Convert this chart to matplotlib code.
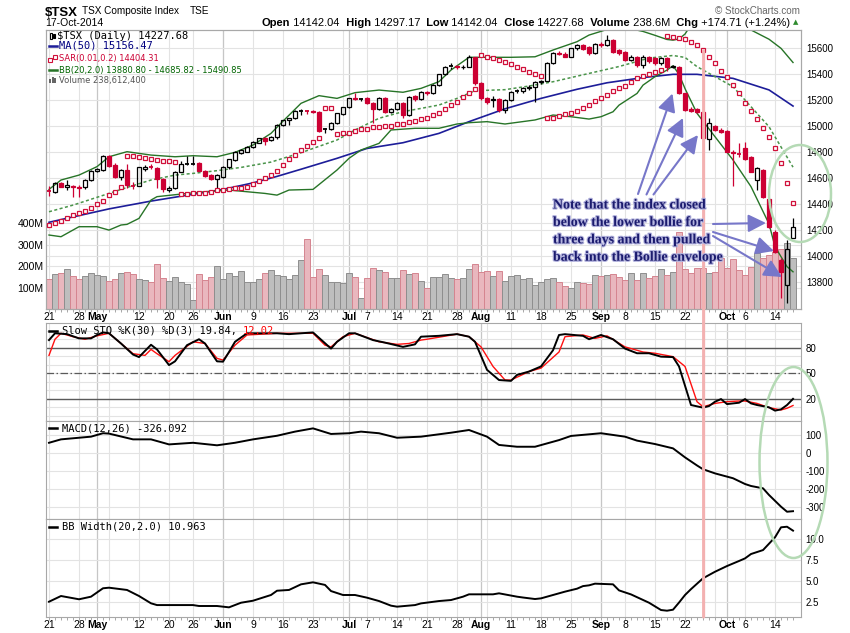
import matplotlib
matplotlib.use("Agg")
import matplotlib.pyplot as plt
import matplotlib.transforms as mtransforms
import matplotlib.patheffects as pe
from matplotlib.patches import Rectangle, Ellipse, FancyArrowPatch, ConnectionPatch
from matplotlib.lines import Line2D
import pandas as pd

W, H = 850, 633
plt.rcParams['font.family'] = ['Liberation Sans', 'DejaVu Sans']

# ---------------- data ----------------
holidays = ['2014-05-19', '2014-07-01', '2014-08-04', '2014-09-01', '2014-10-13']
dates = pd.bdate_range('2014-04-21', '2014-10-17')
dates = dates[~dates.isin(pd.to_datetime(holidays))]

prev_close = 14530  # Apr 17 close

opens = [14505, 14492, 14561, 14536, 14542, 14532, 14530, 14587, 14656, 14664,
         14772, 14702, 14607, 14664, 14545, 14543, 14669, 14690, 14677, 14595,
         14513, 14523, 14651, 14707, 14710, 14720, 14659, 14625, 14595, 14613,
         14684, 14741, 14797, 14805, 14838, 14874, 14913, 14895, 14915, 15010,
         15048, 15061, 15118, 15121, 15118, 15113, 14978, 14977, 15028, 15095,
         15146, 15215, 15210, 15215, 15177, 15136, 15215, 15113, 15131, 15177,
         15087, 15233, 15208, 15267, 15254, 15318, 15400, 15459, 15462, 15453,
         15460, 15531, 15331, 15215, 15200, 15210, 15126, 15203, 15275, 15270,
         15292, 15300, 15340, 15352, 15490, 15567, 15560, 15535, 15600, 15625,
         15612, 15561, 15632, 15622, 15664, 15587, 15575, 15510, 15535, 15471,
         15530, 15523, 15484, 15523, 15455, 15458, 15253, 15131, 15131, 15113,
         14900, 15000, 14972, 14967, 14805, 14792, 14836, 14767, 14587, 14664,
         14439, 14190, 13972, 13780, 14142]
highs = [14540, 14575, 14570, 14585, 14550, 14545, 14595, 14665, 14680, 14780,
         14778, 14720, 14672, 14710, 14574, 14690, 14700, 14712, 14690, 14600,
         14540, 14655, 14730, 14774, 14774, 14725, 14668, 14630, 14632, 14695,
         14752, 14810, 14825, 14850, 14888, 14912, 14920, 14925, 15015, 15052,
         15065, 15125, 15130, 15128, 15125, 15120, 14990, 15035, 15105, 15150,
         15220, 15259, 15220, 15225, 15185, 15222, 15222, 15140, 15185, 15185,
         15235, 15240, 15275, 15275, 15325, 15405, 15465, 15490, 15470, 15470,
         15545, 15536, 15340, 15225, 15230, 15220, 15210, 15275, 15285, 15300,
         15315, 15350, 15360, 15495, 15570, 15580, 15575, 15605, 15635, 15632,
         15620, 15640, 15645, 15702, 15675, 15595, 15580, 15545, 15540, 15545,
         15540, 15530, 15530, 15530, 15475, 15465, 15260, 15150, 15140, 15120,
         15062, 15010, 14985, 14975, 14815, 14870, 14882, 14775, 14690, 14670,
         14445, 14200, 13985, 14126, 14297]
lows = [14465, 14485, 14530, 14510, 14460, 14455, 14520, 14580, 14645, 14655,
        14690, 14600, 14590, 14523, 14520, 14540, 14660, 14670, 14523, 14497,
        14495, 14515, 14645, 14700, 14700, 14655, 14612, 14585, 14510, 14605,
        14675, 14735, 14790, 14800, 14830, 14868, 14856, 14885, 14905, 15000,
        15010, 15055, 15090, 15095, 15100, 14960, 14945, 14970, 15020, 15090,
        15140, 15200, 15195, 15170, 15023, 15125, 15105, 15100, 15125, 15062,
        15080, 15195, 15200, 15240, 15245, 15310, 15395, 15440, 15440, 15440,
        15455, 15320, 15200, 15175, 15150, 15110, 15100, 15195, 15255, 15260,
        15280, 15190, 15325, 15345, 15480, 15545, 15530, 15530, 15590, 15585,
        15550, 15555, 15610, 15615, 15565, 15550, 15500, 15500, 15460, 15446,
        15490, 15470, 15475, 15425, 15445, 15245, 15115, 15110, 15100, 14900,
        14818, 14965, 14950, 14800, 14544, 14767, 14740, 14645, 14510, 14450,
        14215, 14025, 13677, 13639, 14142]
closes = [14500, 14561, 14536, 14545, 14530, 14525, 14587, 14656, 14671, 14772,
          14695, 14607, 14664, 14548, 14543, 14684, 14690, 14684, 14595, 14515,
          14528, 14651, 14707, 14709, 14714, 14659, 14618, 14595, 14625, 14690,
          14746, 14805, 14818, 14843, 14882, 14907, 14890, 14920, 15010, 15048,
          15061, 15118, 15121, 15116, 15108, 14967, 14982, 15028, 15100, 15146,
          15215, 15208, 15210, 15177, 15133, 15215, 15113, 15131, 15177, 15087,
          15228, 15208, 15267, 15254, 15318, 15400, 15459, 15462, 15453, 15460,
          15531, 15331, 15215, 15190, 15210, 15126, 15203, 15267, 15270, 15292,
          15305, 15344, 15352, 15490, 15562, 15554, 15535, 15600, 15625, 15594,
          15561, 15630, 15622, 15664, 15574, 15561, 15510, 15535, 15471, 15535,
          15500, 15484, 15523, 15458, 15462, 15253, 15125, 15120, 15113, 14908,
          15028, 14972, 14959, 14805, 14792, 14788, 14746, 14651, 14677, 14459,
          14228, 14036, 13882, 14053, 14228]
volume_m = [139, 163, 167, 186, 153, 139, 153, 167, 159, 153,
            130, 139, 167, 173, 163, 139, 135, 125, 209, 144,
            130, 148, 125, 116, 41, 163, 135, 148, 200, 139,
            167, 153, 177, 125, 125, 139, 167, 181, 158, 153,
            139, 158, 228, 326, 148, 186, 158, 125, 125, 120,
            167, 148, 50, 144, 190, 181, 172, 144, 144, 181,
            163, 167, 130, 97, 148, 148, 163, 144, 139, 144,
            186, 209, 172, 177, 153, 177, 131, 155, 158, 139,
            147, 111, 127, 139, 147, 125, 108, 100, 128, 120,
            116, 158, 155, 158, 163, 151, 134, 166, 134, 166,
            147, 155, 186, 158, 173, 358, 187, 167, 193, 193,
            167, 171, 240, 193, 233, 183, 158, 198, 264, 236,
            251, 267, 280, 310, 238.6]
sar = [14241, 14253, 14271, 14292, 14318, 14330, 14348, 14369, 14400, 14428,
       14469, 14497, 14536, 14771, 14771, 14766, 14753, 14746, 14741, 14735,
       14733, 14723, 14476, 14478, 14484, 14489, 14491, 14497, 14510, 14512,
       14515, 14523, 14528, 14536, 14556, 14579, 14605, 14625, 14660, 14705,
       14745, 14780, 14815, 14850, 14880, 14910, 15138, 15138, 14938, 14946,
       14951, 14964, 14977, 14980, 14992, 14997, 15003, 15005, 15015, 15018,
       15031, 15041, 15054, 15062, 15087, 15105, 15131, 15162, 15190, 15223,
       15259, 15290, 15545, 15536, 15523, 15510, 15495, 15477, 15459, 15438,
       15420, 15403, 15385, 15062, 15065, 15080, 15092, 15105, 15117, 15138,
       15164, 15197, 15220, 15240, 15271, 15292, 15312, 15343, 15374, 15390,
       15399, 15415, 15430, 15695, 15685, 15677, 15669, 15650, 15626, 15590,
       15536, 15485, 15428, 15382, 15318, 15254, 15182, 15121, 15054, 14985,
       14920, 14831, 14715, 14562, 14408]

# indicator lines sampled off the chart: (day index, value)
ma50_x = [0, 10, 17, 23, 29, 34, 38, 42, 48, 53, 59, 65, 70, 76, 82, 88, 93, 99, 104, 108, 114, 120, 124]
ma50_y = [14262, 14365, 14425, 14470, 14515, 14565, 14615, 14670, 14754, 14830, 14874, 14946,
          15036, 15135, 15215, 15285, 15335, 15375, 15400, 15400, 15369, 15280, 15156]
bbm_x = [0, 4, 10, 13, 17, 21, 24, 28, 32, 37, 42, 48, 51, 55, 59, 62, 65, 68, 71, 76, 80,
         84, 90, 95, 100, 104, 106, 108, 114, 120, 124]
bbm_y = [14343, 14394, 14484, 14530, 14587, 14625, 14638, 14659, 14684, 14725, 14797, 14895,
         14972, 15062, 15113, 15138, 15164, 15215, 15274, 15282, 15310, 15343, 15407, 15460,
         15525, 15545, 15530, 15459, 15305, 14997, 14686]
bbu_x = [0, 2, 5, 8, 10, 13, 17, 21, 24, 28, 31, 34, 37, 39, 42, 45, 48, 51, 55, 59, 62, 65,
         67, 70, 73, 77, 81, 84, 88, 90, 93, 96, 99, 101, 103, 104, 105, 106, 107, 110, 113,
         115, 117, 120, 122, 124]
bbu_y = [14515, 14587, 14625, 14690, 14766, 14805, 14779, 14766, 14774, 14766, 14800, 14856,
         14946, 15040, 15177, 15236, 15215, 15259, 15279, 15262, 15292, 15344, 15433, 15531,
         15531, 15531, 15535, 15587, 15651, 15702, 15745, 15760, 15730, 15700, 15668, 15663,
         15672, 15710, 15780, 15900, 15900, 15800, 15741, 15670, 15600, 15491]
bbl_x = [0, 2, 5, 8, 10, 12, 13, 15, 17, 18, 22, 26, 30, 33, 36, 38, 40, 44, 48, 50, 52, 55,
         57, 61, 65, 68, 70, 73, 76, 81, 84, 87, 90, 92, 94, 95, 98, 99, 101, 103, 104, 105,
         106, 108, 111, 114, 117, 120, 121, 123, 124]
bbl_y = [14164, 14151, 14228, 14228, 14202, 14241, 14246, 14292, 14433, 14459, 14479, 14497,
         14510, 14497, 14484, 14471, 14510, 14515, 14664, 14754, 14818, 14869, 14972, 14985,
         14985, 15018, 15028, 15036, 15018, 15049, 15087, 15074, 15056, 15074, 15112, 15163,
         15253, 15317, 15382, 15433, 15466, 15400, 15290, 15100, 14920, 14741, 14536, 14250,
         14074, 13921, 13881]

sto_k_x = [0, 1, 3, 5, 7, 8, 9, 10, 12, 14, 15, 17, 18, 20, 21, 23, 25, 26, 28, 29, 30, 31,
           33, 38, 40, 44, 47, 48, 50, 51, 54, 56, 59, 61, 62, 65, 68, 70, 71, 73, 75, 77, 78,
           80, 82, 84, 85, 86, 89, 90, 92, 94, 96, 98, 100, 102, 104, 105, 107, 109, 110, 111,
           112, 113, 115, 116, 117, 118, 120, 121, 122, 123, 124]
sto_k_y = [89, 97, 96, 91, 91, 95, 98, 97, 85, 72, 69, 83.5, 78, 59.6, 64, 83, 90, 85, 64,
           63.6, 75, 87, 97, 97, 96, 98, 79, 87, 97, 97, 89, 86, 81, 84, 93, 94, 96, 93, 87,
           54, 42, 41, 48, 52, 58, 77, 95, 96, 94, 90, 95, 90, 79, 73.5, 73.5, 69.5, 69, 58,
           12.6, 9.5, 11.4, 16.5, 19.6, 13.7, 15.3, 19.6, 14.5, 12.6, 9.9, 6, 7.5, 12.6, 19.84]
sto_d_x = [0, 1, 2, 4, 6, 8, 10, 12, 14, 16, 17, 18, 20, 21, 24, 26, 28, 29, 31, 33, 38, 44,
           46, 47, 49, 51, 55, 58, 60, 62, 63, 68, 70, 72, 74, 76, 77, 80, 82, 85, 86, 89, 91,
           93, 96, 99, 101, 104, 106, 108, 109, 111, 113, 115, 116, 118, 120, 122, 123, 124]
sto_d_y = [71, 90, 97, 93, 90, 94, 97, 85, 73, 71, 78, 73, 63.6, 71, 87, 85, 67.5, 65.5, 83,
           95, 97, 97, 83, 81, 93, 97, 87, 84, 85, 89, 90, 96, 93, 81, 58, 42, 42, 52, 56, 75,
           93, 95, 91, 94, 81, 75, 73.5, 69.5, 58, 16.5, 10.6, 14.5, 16.5, 17.3, 17.3, 14.5,
           9.5, 6.8, 8.8, 12.02]
macd_x = [0, 2, 5, 7, 9, 10, 14, 17, 20, 24, 28, 31, 34, 38, 41, 44, 47, 50, 52, 55, 58, 62,
          67, 70, 73, 75, 78, 81, 85, 87, 90, 92, 96, 98, 101, 104, 106, 108, 109, 111, 114,
          116, 117, 119, 120, 122, 123, 124]
macd_y = [54, 73, 82, 88, 107, 105, 73, 73, 45, 54, 40, 54, 73, 93, 116, 134, 103, 107, 116,
          107, 82, 88, 110, 125, 88, 42, 32, 32, 69, 92, 101, 107, 88, 66, 47, 23, -27, -72,
          -93, -116, -143, -175, -186, -199, -236, -301, -329, -326]
bbw_x = [0, 2, 5, 7, 9, 10, 13, 15, 17, 18, 24, 25, 28, 30, 32, 34, 37, 38, 40, 42, 44, 46,
         47, 49, 51, 53, 55, 57, 58, 61, 62, 65, 67, 69, 70, 74, 75, 78, 79, 81, 82, 85, 86,
         88, 89, 90, 91, 94, 95, 97, 100, 102, 103, 104, 105, 106, 107, 109, 111, 113, 115,
         116, 117, 119, 121, 122, 123, 124]
bbw_y = [2.5, 3.18, 2.79, 3.1, 4.1, 4.17, 3.9, 3.18, 2.31, 2.1, 2.1, 1.99, 1.99, 1.83, 2.38,
         2.62, 3.3, 3.81, 3.9, 4.57, 4.81, 4.5, 3.77, 3.3, 3.3, 2.98, 2.58, 2.03, 1.91, 2.1,
         2.3, 2.58, 2.7, 3.1, 3.38, 3.38, 3.5, 3.1, 3.0, 2.82, 2.9, 3.5, 3.7, 4.05, 4.36,
         4.45, 4.65, 4.57, 3.85, 3.37, 2.38, 1.51, 1.43, 1.55, 2.4, 3.3, 4.0, 5.29, 6.07,
         6.75, 7.35, 7.66, 8.18, 8.65, 10.17, 11.36, 11.43, 10.963]

marked_day = 109.1  # pink vertical marker (Sep 25)

# ---------------- helpers ----------------
def fx(x):
    return x / W

def fy(y):
    return 1 - y / H

def rect(x0, y0, x1, y1):
    return [x0 / W, 1 - y1 / H, (x1 - x0) / W, (y1 - y0) / H]

n = len(dates)
s = pd.Series(range(n), index=dates)
week_idx = sorted(s.groupby(dates.isocalendar().week.values).min().tolist())
month_idx = [i for i in range(1, n) if dates[i].month != dates[i - 1].month]
labels = {}
for i in sorted(set(week_idx) | set(month_idx)):
    if i in month_idx:
        labels[i] = dates[i].strftime('%b')
    elif min(abs(i - m) for m in month_idx) >= 3:
        labels[i] = str(dates[i].day)

GRID = '#e3e3e3'
MGRID = '#c6c6c6'
SPINE = '#a8a8a8'

fig = plt.figure(figsize=(W / 100, H / 100), dpi=100)
ax_v = fig.add_axes(rect(46, 30, 801, 309))
ax = ax_v.twinx()
ax_sto = fig.add_axes(rect(46, 323, 801, 421), sharex=ax_v)
ax_macd = fig.add_axes(rect(46, 421, 801, 519), sharex=ax_v)
ax_bbw = fig.add_axes(rect(46, 519, 801, 617), sharex=ax_v)

for a in (ax_v, ax_sto, ax_macd, ax_bbw):
    for i in week_idx:
        a.axvline(i, color=GRID, lw=0.8, zorder=0)
    for i in month_idx:
        a.axvline(i, color=MGRID, lw=0.9, zorder=0)

# price grid drawn in the volume axes (behind bars)
blend = mtransforms.blended_transform_factory(ax_v.transAxes, ax.transData)
for p in range(13800, 15601, 200):
    ax_v.add_line(Line2D([0, 1], [p, p], transform=blend, color=GRID, lw=0.8, zorder=0))
for v in (100, 200, 300, 400):
    ax_v.axhline(v * 1e6, color=GRID, lw=0.8, zorder=0)

# volume
for i in range(n):
    pc = closes[i - 1] if i else prev_close
    up = closes[i] >= pc
    ax_v.bar(i, volume_m[i] * 1e6, width=1.0,
             color='#bebebe' if up else '#e9b7be',
             edgecolor='#8e8e8e' if up else '#d58590', linewidth=0.7, zorder=2)

# candles
for i in range(n):
    o, h, l, c = opens[i], highs[i], lows[i], closes[i]
    pc = closes[i - 1] if i else prev_close
    col = '#000000' if c >= pc else '#cc0033'
    top, bot = max(o, c), min(o, c)
    ax.plot([i, i], [top, h], color=col, lw=0.9, solid_capstyle='butt', zorder=3)
    ax.plot([i, i], [l, bot], color=col, lw=0.9, solid_capstyle='butt', zorder=3)
    if top - bot < 7:
        ax.plot([i - 0.38, i + 0.38], [c, c], color=col, lw=1.3, solid_capstyle='butt', zorder=4)
    else:
        ax.add_patch(Rectangle((i - 0.36, bot), 0.72, top - bot,
                               facecolor='none' if c > o else col,
                               edgecolor=col, lw=0.9, zorder=4))

ax.plot(ma50_x, ma50_y, color='#1d1d99', lw=1.2, zorder=2)
ax.plot(bbu_x, bbu_y, color='#277427', lw=1.0, zorder=2)
ax.plot(bbl_x, bbl_y, color='#277427', lw=1.0, zorder=2)
ax.plot(bbm_x, bbm_y, color='#4a944a', lw=1.1, ls=(0, (2, 1.6)), zorder=2)
ax.plot(range(n), sar, ls='none', marker='s', ms=2.6, mfc='white', mec='#d0103a',
        mew=0.9, zorder=5)

ax_v.set_xlim(-0.5, 125.33)
ax.set_ylim(13595, 15741)
ax_v.set_ylim(0, 1303.7e6)

ax.set_yticks(range(13800, 15601, 200))
ax.set_yticklabels([str(p) for p in range(13800, 15601, 200)])
ax.tick_params(axis='y', length=0, pad=3.5, labelsize=7)
ax_v.set_yticks([100e6, 200e6, 300e6, 400e6])
ax_v.set_yticklabels(['100M', '200M', '300M', '400M'])
ax_v.tick_params(axis='y', length=0, pad=1.8, labelsize=7.5)

# STO panel
for v in range(0, 101, 10):
    ax_sto.axhline(v, color=GRID, lw=0.8, zorder=0)
ax_sto.axhline(80, color='#5a5a5a', lw=1.0, zorder=1)
ax_sto.axhline(20, color='#5a5a5a', lw=1.0, zorder=1)
ax_sto.axhline(50, color='#5a5a5a', lw=0.9, ls=(0, (6, 2, 1.2, 2)), zorder=1)
ax_sto.plot(sto_d_x, sto_d_y, color='#ff1010', lw=1.0, zorder=3)
ax_sto.plot(sto_k_x, sto_k_y, color='black', lw=1.4, zorder=4)
ax_sto.set_ylim(-6.2, 109.1)
ax_sto.yaxis.tick_right()
ax_sto.set_yticks([20, 50, 80])
ax_sto.set_yticklabels(['20', '50', '80'])

# MACD panel
for v in (-300, -200, -100, 0, 100):
    ax_macd.axhline(v, color=GRID, lw=0.8, zorder=0)
ax_macd.plot(macd_x, macd_y, color='black', lw=1.4, zorder=3)
ax_macd.set_ylim(-369.4, 175)
ax_macd.yaxis.tick_right()
ax_macd.set_yticks([-300, -200, -100, 0, 100])
ax_macd.set_yticklabels(['-300', '-200', '-100', '0', '100'])

# BB width panel
for v in (2.5, 5.0, 7.5, 10.0):
    ax_bbw.axhline(v, color=GRID, lw=0.8, zorder=0)
ax_bbw.plot(bbw_x, bbw_y, color='black', lw=1.4, zorder=3)
ax_bbw.set_ylim(0.68, 12.35)
ax_bbw.yaxis.tick_right()
ax_bbw.set_yticks([2.5, 5.0, 7.5, 10.0])
ax_bbw.set_yticklabels(['2.5', '5.0', '7.5', '10.0'])

for a in (ax_sto, ax_macd, ax_bbw):
    a.tick_params(axis='y', length=0, pad=3, labelsize=7)

ax_v.set_xticks([])
ax_v.set_xticks(range(n), minor=True)
for a in (ax_v, ax_bbw):
    a.tick_params(axis='x', which='minor', length=2, width=0.6, color='#9a9a9a')
for a in (ax_sto, ax_macd):
    a.tick_params(axis='x', which='both', bottom=False, labelbottom=False)

for a in (ax_v, ax, ax_sto, ax_macd, ax_bbw):
    for sp in a.spines.values():
        sp.set_color(SPINE)
        sp.set_linewidth(0.8)


def date_labels(a):
    tr = mtransforms.offset_copy(
        mtransforms.blended_transform_factory(a.transData, a.transAxes),
        fig=fig, x=0, y=-2.5, units='dots')
    for i, lab in labels.items():
        a.text(i, 0, lab, transform=tr, ha='center', va='top', fontsize=7.5,
               fontweight='bold' if i in month_idx else 'normal', clip_on=False)


date_labels(ax_v)
date_labels(ax_bbw)

# pink marker line running through all panels
fig.add_artist(ConnectionPatch(xyA=(marked_day, 15581), coordsA='data', axesA=ax,
                               xyB=(marked_day, 0.68), coordsB='data', axesB=ax_bbw,
                               color='#f3b1b1', lw=2.2, zorder=6))

# ---------------- header ----------------
r = fig.canvas.get_renderer()
fig.text(fx(45), fy(15.5), "$TSX", fontsize=9.5, fontweight='bold', va='baseline')
fig.text(fx(82), fy(14.2), "TSX Composite Index", fontsize=7.2, va='baseline')
fig.text(fx(190), fy(14.2), "TSE", fontsize=7.2, va='baseline')
fig.text(fx(45), fy(26.5), "17-Oct-2014", fontsize=7.5, va='baseline')
fig.text(fx(800), fy(14.5), "\u00a9 StockCharts.com", fontsize=7.1, color='#666666',
         ha='right', va='baseline')

pieces = [("Open", 'bold'), (" 14142.04", 'normal'), ("  High", 'bold'), (" 14297.17", 'normal'),
          ("  Low", 'bold'), (" 14142.04", 'normal'), ("  Close", 'bold'), (" 14227.68", 'normal'),
          ("  Volume", 'bold'), (" 238.6M", 'normal'), ("  Chg", 'bold'),
          (" +174.71 (+1.24%)", 'normal')]
texts = [fig.text(0, fy(26.5), s_, fontsize=8, fontweight=w_, va='baseline') for s_, w_ in pieces]
widths = [t.get_window_extent(renderer=r).width for t in texts]
x = 790 - sum(widths)
for t, wd in zip(texts, widths):
    t.set_x(fx(x))
    x += wd
fig.text(fx(796), fy(22.5), "\u25b2", fontsize=5, color='#2e8b2e', family='DejaVu Sans',
         ha='center', va='center')

# ---------------- legends ----------------
MONO = 'DejaVu Sans Mono'
fig.add_artist(Rectangle((fx(49.5), fy(39)), 2.2 / W, 6 / H, transform=fig.transFigure,
                         facecolor='none', edgecolor='black', lw=0.8))
fig.add_artist(Rectangle((fx(53), fy(38)), 2.2 / W, 4 / H, transform=fig.transFigure,
                         facecolor='black', edgecolor='black', lw=0.8))
fig.text(fx(57.3), fy(36), "$TSX (Daily) 14227.68", family=MONO, fontsize=7.5, va='center')
fig.add_artist(Line2D([fx(49), fx(57)], [fy(45.7), fy(45.7)], transform=fig.transFigure,
                      color='#1d1d99', lw=1.8))
fig.text(fx(59.3), fy(45.7), "MA(50) 15156.47", family=MONO, fontsize=7.5, va='center',
         color='#000080')
fig.add_artist(Line2D([fx(50), fx(55)], [fy(59.5), fy(57)], transform=fig.transFigure,
                      ls='none', marker='s', ms=2.4, mfc='white', mec='#d0103a', mew=0.8))
fig.text(fx(59.3), fy(59), "SAR(0.01,0.2) 14404.31", fontsize=6, family='DejaVu Sans',
         va='center', color='#cc0033')
fig.add_artist(Line2D([fx(49), fx(57)], [fy(70), fy(70)], transform=fig.transFigure,
                      color='#277427', lw=1.8))
fig.text(fx(59.3), fy(70), "BB(20,2.0) 13880.80 - 14685.82 - 15490.85", fontsize=6,
         family='DejaVu Sans', va='center', color='#006400')
for bx, bh in ((49.3, 4), (51.8, 6), (54.3, 5)):
    fig.add_artist(Rectangle((fx(bx), fy(83)), 1.8 / W, bh / H, transform=fig.transFigure,
                             facecolor='#666666', edgecolor='none'))
fig.text(fx(59.3), fy(80), "Volume 238,612,400", fontsize=6, family='DejaVu Sans',
         va='center', color='#555555')


def panel_legend(y, text, red_tail=None):
    fig.add_artist(Line2D([fx(49.3), fx(56.7)], [fy(y), fy(y)], transform=fig.transFigure,
                          color='black', lw=1.8))
    full = text + (red_tail or "")
    t = fig.text(fx(61.7), fy(y), full, family=MONO, fontsize=7.5, va='center')
    if red_tail:
        wfull = t.get_window_extent(renderer=r).width
        t.set_text(text)
        fig.text(fx(61.7 + wfull), fy(y), red_tail.strip(), family=MONO, fontsize=7.5,
                 va='center', ha='right', color='#ff0000')


panel_legend(330.7, "Slow STO %K(30) %D(3) 19.84,", " 12.02")
panel_legend(428.3, "MACD(12,26) -326.092")
panel_legend(526.7, "BB Width(20,2.0) 10.963")

# ---------------- annotations ----------------
note = ["Note that the index closed", "below the lower bollie for",
        "three days and then pulled", "back into the Bollie envelope"]
for k, line in enumerate(note):
    fig.text(fx(553), fy(205 + k * 17.4), line, family='Liberation Serif', fontweight='bold',
             fontsize=10, color='#1b1b6e', va='center', zorder=8,
             path_effects=[pe.Stroke(linewidth=1.6, foreground='#b4b4de'), pe.Normal()])

ARROW = '#7777c9'
arrows = [((638, 194), (672.5, 93.5)), ((646.5, 194.5), (683, 118)), ((653.5, 194.5), (698, 135)),
          ((713, 224), (766, 223)), ((713, 232), (774, 251)), ((713, 236), (782, 277))]
for (x0, y0), (x1, y1) in arrows:
    fig.add_artist(FancyArrowPatch((fx(x0), fy(y0)), (fx(x1), fy(y1)),
                                   transform=fig.transFigure,
                                   arrowstyle='-|>,head_length=0.6,head_width=0.3',
                                   mutation_scale=18, color=ARROW, lw=1.5,
                                   shrinkA=0, shrinkB=0, zorder=7))

fig.add_artist(Ellipse((fx(800), fy(193.5)), 62 / W, 97 / H, transform=fig.transFigure,
                       facecolor='none', edgecolor='#b5dab5', lw=1.8, zorder=7))
fig.add_artist(Ellipse((fx(793.5), fy(462.5)), 68 / W, 191 / H, transform=fig.transFigure,
                       facecolor='none', edgecolor='#b5dab5', lw=1.8, zorder=7))

fig.savefig("out.png", dpi=100)
